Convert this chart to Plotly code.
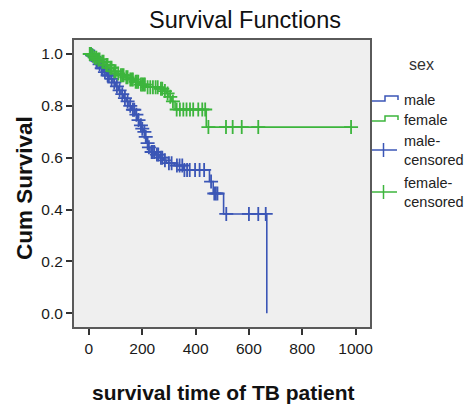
import bisect
import plotly.graph_objects as go

# Kaplan-Meier step points: (time, cumulative survival after the step)
male_times = [0, 8, 15, 25, 35, 45, 55, 65, 79, 90, 100, 110, 120, 130, 141, 150,
              160, 173, 182, 191, 198, 204, 210, 216, 222, 229, 250, 266, 280, 291,
              320, 354, 452, 466, 505, 667]
male_surv = [1.0, 0.995, 0.99, 0.975, 0.96, 0.945, 0.93, 0.917, 0.904, 0.89, 0.875,
             0.86, 0.845, 0.83, 0.817, 0.80, 0.785, 0.766, 0.745, 0.725, 0.712, 0.70,
             0.68, 0.656, 0.64, 0.622, 0.612, 0.60, 0.59, 0.579, 0.57, 0.553, 0.508,
             0.462, 0.383, 0.0]
male_censored = [5, 12, 20, 28, 33, 40, 48, 52, 60, 70, 75, 85, 95, 105, 115, 125,
                 135, 145, 155, 165, 170, 178, 186, 195, 200, 208, 213, 220, 225, 235,
                 240, 245, 255, 260, 270, 275, 285, 300, 310, 330, 340, 350, 358, 368,
                 378, 398, 415, 432, 458, 470, 476, 482, 515, 600, 635, 663]

female_times = [0, 10, 20, 30, 45, 60, 75, 91, 105, 116, 135, 150, 170, 191, 216,
                266, 280, 291, 300, 310, 323, 440]
female_surv = [1.0, 0.993, 0.986, 0.979, 0.97, 0.958, 0.947, 0.933, 0.925, 0.918,
               0.91, 0.902, 0.893, 0.882, 0.872, 0.866, 0.857, 0.848, 0.835, 0.817,
               0.786, 0.718]
female_censored = [3, 8, 15, 22, 28, 35, 40, 50, 55, 65, 70, 80, 85, 95, 100, 110,
                   120, 125, 130, 140, 145, 155, 160, 165, 175, 180, 185, 195, 200,
                   205, 210, 220, 230, 240, 250, 258, 270, 275, 285, 295, 305, 315,
                   329, 341, 354, 366, 379, 391, 410, 425, 436, 448, 514, 539, 573,
                   635, 983]

x_ticks = [0, 200, 400, 600, 800, 1000]
y_ticks = [0.0, 0.2, 0.4, 0.6, 0.8, 1.0]

BLUE = "#3B56B6"
GREEN = "#3DB53D"
FONT = "Liberation Sans, Arial, sans-serif"


def survival_at(times, surv, t):
    i = bisect.bisect_right(times, t) - 1
    return surv[max(i, 0)]


def extend(times, surv, censored):
    # carry the last step out to the last censored observation
    last = max(censored)
    if last > times[-1]:
        return times + [last], surv + [surv[-1]]
    return times, surv


fig = go.Figure()

for name, times, surv, cens, color in [
    ("male", male_times, male_surv, male_censored, BLUE),
    ("female", female_times, female_surv, female_censored, GREEN),
]:
    xs, ys = extend(times, surv, cens)
    fig.add_trace(go.Scatter(
        x=xs, y=ys, mode="lines", line=dict(color=color, width=1.6, shape="hv"),
        name=name, showlegend=False, hoverinfo="skip"))
    fig.add_trace(go.Scatter(
        x=cens, y=[survival_at(times, surv, t) for t in cens], mode="markers",
        marker=dict(symbol="cross-thin", size=10,
                    line=dict(color=color, width=1.8), color=color),
        name=name + "-censored", showlegend=False, hoverinfo="skip"))

# plot area in pixels: x 74..370, y 40..327
L, R, T, B = 74, 370, 40, 327
W, H = 467, 411


def px(x):
    return (x - L) / (R - L)


def py(y):
    return (B - y) / (B - T)


shapes = []
annotations = []

# custom legend with step-shaped icons for the survival lines
legend_rows = [
    ("male", BLUE, 100, "step"),
    ("female", GREEN, 120, "step"),
    ("male-<br>censored", BLUE, 150, "cross"),
    ("female-<br>censored", GREEN, 192, "cross"),
]
for label, color, yc, kind in legend_rows:
    if kind == "step":
        path = (f"M {px(372)},{py(yc + 1)} L {px(385)},{py(yc + 1)} "
                f"L {px(385)},{py(yc - 4)} L {px(398)},{py(yc - 4)} "
                f"L {px(398)},{py(yc)}")
        shapes.append(dict(type="path", path=path, xref="paper", yref="paper",
                           line=dict(color=color, width=1.5)))
    else:
        shapes.append(dict(type="line", xref="paper", yref="paper",
                           x0=px(372), x1=px(397), y0=py(yc), y1=py(yc),
                           line=dict(color=color, width=1.5)))
        shapes.append(dict(type="line", xref="paper", yref="paper",
                           x0=px(383.5), x1=px(383.5), y0=py(yc - 7), y1=py(yc + 7),
                           line=dict(color=color, width=1.5)))
    annotations.append(dict(
        text=label, x=px(402), y=py(yc), xref="paper", yref="paper",
        xanchor="left", yanchor="middle", showarrow=False, align="left",
        font=dict(family=FONT, size=14.5, color="#222")))

annotations.append(dict(
    text="sex", x=px(421), y=py(65), xref="paper", yref="paper",
    xanchor="center", yanchor="middle", showarrow=False,
    font=dict(family=FONT, size=16, color="#333")))

# axis titles
annotations.append(dict(
    text="<b>survival time of TB patient</b>", x=px(223), y=py(392),
    xref="paper", yref="paper", xanchor="center", yanchor="middle",
    showarrow=False, font=dict(family=FONT, size=21, color="#111")))
annotations.append(dict(
    text="<b>Cum Survival</b>", x=px(24), y=py(188), xref="paper", yref="paper",
    xanchor="center", yanchor="middle", showarrow=False, textangle=-90,
    font=dict(family=FONT, size=22.5, color="#111")))

axis_common = dict(
    showgrid=False, zeroline=False, showline=True, mirror=True,
    linecolor="#5A5A5A", linewidth=2, ticks="outside", ticklen=6,
    tickwidth=1.5, tickcolor="#333",
    tickfont=dict(family=FONT, size=15.5, color="#1A1A1A"),
)

fig.update_layout(
    width=W, height=H,
    margin=dict(l=L, r=W - R, t=T, b=H - B),
    paper_bgcolor="white", plot_bgcolor="#EFEFEF",
    title=dict(text="Survival Functions", x=245 / W, xanchor="center",
               y=1 - 20 / H, yanchor="middle",
               font=dict(family=FONT, size=23.5, color="#111")),
    xaxis=dict(range=[-56, 1054], tickvals=x_ticks, **axis_common),
    yaxis=dict(range=[-0.053, 1.054], tickvals=y_ticks, tickformat=".1f",
               **axis_common),
    shapes=shapes, annotations=annotations, showlegend=False,
)

fig.write_html("out.html")
